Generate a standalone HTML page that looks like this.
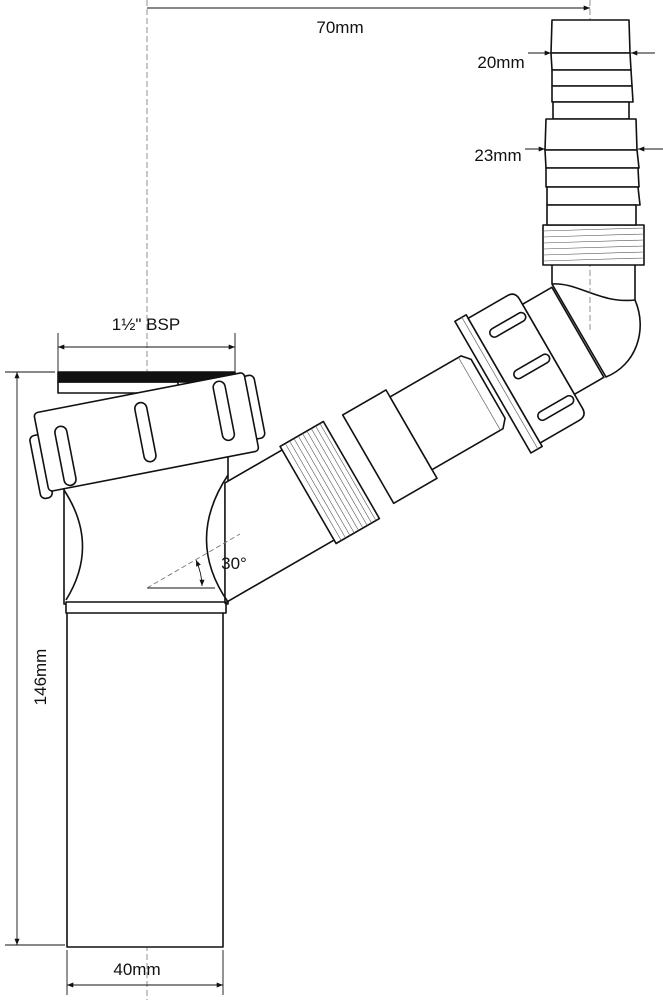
<!DOCTYPE html>
<html><head><meta charset="utf-8"><style>
html,body{margin:0;padding:0;background:#fff}
svg{display:block}
text{font-family:"Liberation Sans",sans-serif;fill:#111}
</style></head><body>
<svg width="663" height="1000" viewBox="0 0 663 1000" xmlns="http://www.w3.org/2000/svg">
<defs>
<marker id="ar" viewBox="0 0 10 10" refX="10" refY="5" markerWidth="7" markerHeight="7" orient="auto-start-reverse"><path d="M0,1 L10,5 L0,9z" fill="#111"/></marker>
</defs>
<g fill="#fff" stroke="#111" stroke-width="1.6" stroke-linejoin="round">
<line x1="147" y1="0" x2="147" y2="1000" stroke="#777" stroke-width="0.8" stroke-dasharray="6,3"/>
<rect x="67" y="612" width="156" height="335"/>
<rect x="64" y="440" width="164" height="164"/>
<path d="M64,490 Q100,545 66,600" fill="none"/>
<rect x="66" y="602" width="160" height="11"/>
<g transform="translate(147,588) rotate(-30)">
<path d="M60,52 L190,52 L190,-52 L120,-52 Z"/>
<rect x="186" y="-56" width="50" height="112"/>
<g stroke-width="0.6" stroke="#555">
<line x1="192" y1="-56" x2="192" y2="56"/><line x1="197" y1="-56" x2="197" y2="56"/><line x1="202" y1="-56" x2="202" y2="56"/><line x1="207" y1="-56" x2="207" y2="56"/><line x1="212" y1="-56" x2="212" y2="56"/><line x1="217" y1="-56" x2="217" y2="56"/><line x1="222" y1="-56" x2="222" y2="56"/><line x1="227" y1="-56" x2="227" y2="56"/><line x1="232" y1="-56" x2="232" y2="56"/>
</g>
<rect x="256" y="-52" width="50" height="102"/>
<path d="M306,-44 L388,-44 L395,-36 L395,32 L388,40 L306,40 Z"/>
<line x1="385" y1="-44" x2="385" y2="40" stroke-width="0.7" stroke="#666"/>
<rect x="467" y="-58" width="34" height="104"/>
<rect x="400" y="-77" width="13" height="152"/>
<line x1="408" y1="-77" x2="408" y2="75" stroke-width="0.7" stroke="#666"/>
<path d="M413,-73 L458,-73 Q467,-73 467,-64 L467,62 Q467,71 458,71 L413,71 Z"/>
<rect x="424" y="-52" width="40" height="9" rx="4.5"/>
<rect x="424" y="-4" width="40" height="9" rx="4.5"/>
<rect x="424" y="44" width="40" height="9" rx="4.5"/>
</g>
<path d="M552,262 L635,262 L635,300 C648,330 636,365 606,377 L552,284 Z"/>
<path d="M552,284 C578,282 600,304 635,300" fill="none"/>
<line x1="590" y1="0" x2="590" y2="330" stroke="#777" stroke-width="0.8" stroke-dasharray="6,3"/>
<rect x="543" y="225" width="101" height="40"/>
<g stroke-width="0.6" stroke="#555">
<line x1="543" y1="231" x2="644" y2="228"/><line x1="543" y1="237" x2="644" y2="234"/><line x1="543" y1="243" x2="644" y2="240"/><line x1="543" y1="249" x2="644" y2="246"/><line x1="543" y1="255" x2="644" y2="252"/><line x1="543" y1="261" x2="644" y2="258"/>
</g>
<path d="M552,20 L629,20 L630,53 L551,53 Z"/>
<path d="M551,53 L630,53 L631,70 L552,70 Z"/>
<path d="M552,70 L631,70 L632,86 L552,86 Z"/>
<path d="M552,86 L632,86 L633,102 L552,102 Z"/>
<rect x="553" y="102" width="76" height="17"/>
<path d="M546,119 L636,119 L637,150 L545,150 Z"/>
<path d="M545,150 L637,150 L639,168 L546,168 Z"/>
<path d="M546,168 L638,168 L639,187 L546,187 Z"/>
<path d="M547,187 L638,187 L640,205 L547,205 Z"/>
<rect x="547" y="205" width="89" height="20"/>
<rect x="58" y="382" width="120" height="11"/>
<rect x="58" y="372" width="177" height="10" fill="#111"/>
<g transform="rotate(-11 146 430)">
<rect x="30" y="414" width="12" height="64" rx="5"/>
<rect x="250" y="396" width="12" height="64" rx="5"/>
<rect x="39" y="392" width="214" height="80" rx="4"/>
<rect x="56" y="410" width="12" height="60" rx="6"/>
<rect x="139" y="402" width="12" height="60" rx="6"/>
<rect x="220" y="396" width="12" height="60" rx="6"/>
</g>
<path d="M228,475 Q185,540 228,602" fill="none"/>
</g>
<g stroke="#111" stroke-width="0.9" fill="none">
<line x1="147" y1="8" x2="590" y2="8" marker-end="url(#ar)"/>
<line x1="528" y1="53" x2="551" y2="53" marker-end="url(#ar)"/>
<line x1="655" y1="53" x2="631" y2="53" marker-end="url(#ar)"/>
<line x1="525" y1="149" x2="545" y2="149" marker-end="url(#ar)"/>
<line x1="663" y1="149" x2="638" y2="149" marker-end="url(#ar)"/>
<line x1="58" y1="333" x2="58" y2="372"/><line x1="235" y1="333" x2="235" y2="372"/>
<line x1="58" y1="347" x2="235" y2="347" marker-start="url(#ar)" marker-end="url(#ar)"/>
<line x1="5" y1="372" x2="55" y2="372"/><line x1="5" y1="945" x2="65" y2="945"/>
<line x1="17" y1="372" x2="17" y2="945" marker-start="url(#ar)" marker-end="url(#ar)"/>
<line x1="67" y1="950" x2="67" y2="995"/><line x1="223" y1="950" x2="223" y2="995"/>
<line x1="67" y1="985" x2="223" y2="985" marker-start="url(#ar)" marker-end="url(#ar)"/>
<line x1="147" y1="588" x2="215" y2="588"/>
<line x1="147" y1="588" x2="240" y2="534" stroke="#777" stroke-dasharray="5,3"/>
<path d="M196,560 Q202,574 202,586" marker-start="url(#ar)" marker-end="url(#ar)"/>
</g>
<text x="340" y="33" font-size="17" text-anchor="middle">70mm</text>
<text x="501" y="68" font-size="17" text-anchor="middle">20mm</text>
<text x="498" y="161" font-size="17" text-anchor="middle">23mm</text>
<text x="146" y="330" font-size="17" text-anchor="middle">1½" BSP</text>
<text x="234" y="569" font-size="17" text-anchor="middle">30°</text>
<text x="137" y="975" font-size="17" text-anchor="middle">40mm</text>
<text x="0" y="0" font-size="17" text-anchor="middle" transform="translate(46,677) rotate(-90)">146mm</text>
</svg>
</body></html>
